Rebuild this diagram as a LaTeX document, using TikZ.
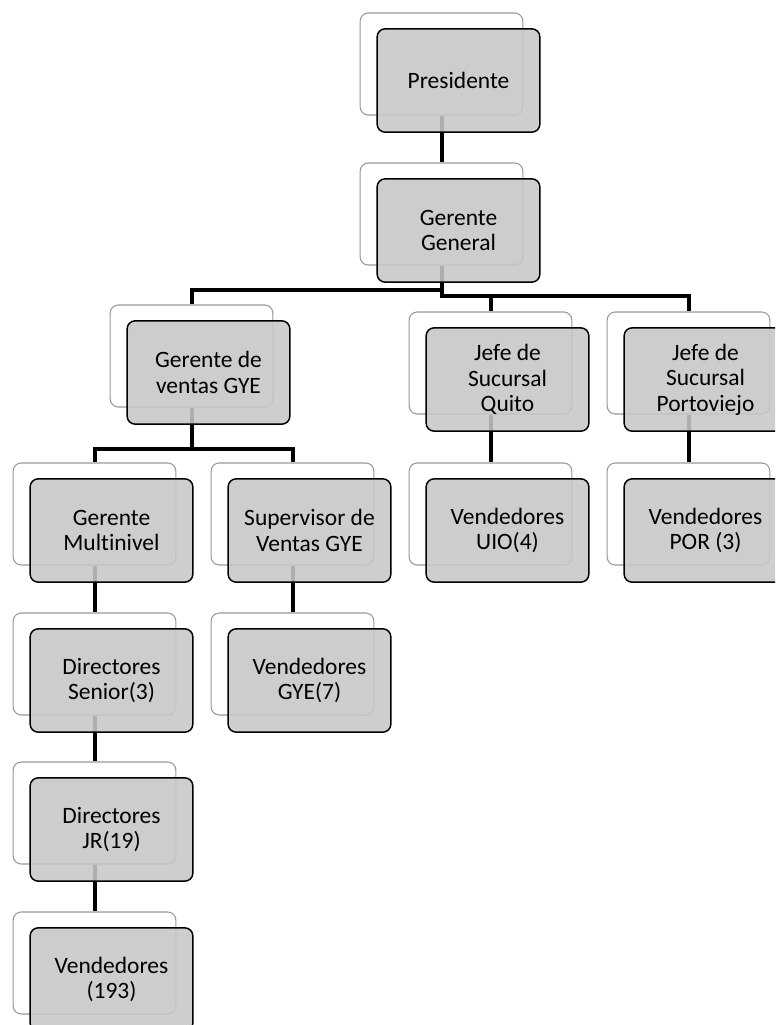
\documentclass[tikz,border=0pt]{standalone}
\usepackage{fontspec}
\setmainfont{Carlito}[Ligatures=NoCommon]
\begin{document}
\begin{tikzpicture}[x=0.75pt,y=-0.75pt,
  backbox/.style={draw=black!40,fill=white,line width=0.8pt,rounded corners=6pt,
    minimum width=122pt,minimum height=76.5pt,inner sep=0pt},
  frontbox/.style={draw=black,fill=black!22,fill opacity=0.88,text opacity=1,line width=1.1pt,
    rounded corners=6pt,minimum width=122pt,minimum height=77.5pt,inner sep=0pt,
    align=center,font=\fontsize{17.6}{19.1}\selectfont},
  link/.style={draw=black,line width=3pt}]
\clip (0,0) rectangle (775,1025);
% back boxes
\node[backbox] (pr) at (441.5,64) {};
\node[backbox] (gg) at (441.5,214) {};
\node[backbox] (gv) at (191.5,356) {};
\node[backbox] (qu) at (490.5,363) {};
\node[backbox] (po) at (688.5,363) {};
\node[backbox] (mu) at (94.5,514) {};
\node[backbox] (su) at (292.5,514) {};
\node[backbox] (uio) at (490.5,514) {};
\node[backbox] (por) at (688.5,514) {};
\node[backbox] (ds) at (94.5,664) {};
\node[backbox] (vg) at (292.5,664) {};
\node[backbox] (jr) at (94.5,813) {};
\node[backbox] (ve) at (94.5,963) {};
% connectors
\draw[link] (pr.south) -- (gg.north);
\draw[link] (gg.south) -- ++(0,24) -| (gv.north);
\draw[link] (gg.south) -- ++(0,30) -| (qu.north);
\draw[link] (gg.south) -- ++(0,30) -| (po.north);
\draw[link] (gv.south) -- ++(0,41) -| (mu.north);
\draw[link] (gv.south) -- ++(0,41) -| (su.north);
\draw[link] (qu.south) -- (uio.north);
\draw[link] (po.south) -- (por.north);
\draw[link] (mu.south) -- (ds.north);
\draw[link] (ds.south) -- (jr.north);
\draw[link] (jr.south) -- (ve.north);
\draw[link] (su.south) -- (vg.north);
% front boxes
\node[frontbox] (prF) at ([shift={(17,16.5)}]pr.center) {Presidente};
\node[frontbox] (ggF) at ([shift={(17,16.5)}]gg.center) {Gerente\\General};
\node[frontbox] (gvF) at ([shift={(17,16.5)}]gv.center) {Gerente de\\ventas GYE};
\node[frontbox] (quF) at ([shift={(17,16.5)}]qu.center) {Jefe de\\Sucursal\\Quito};
\node[frontbox] (poF) at ([shift={(17,16.5)}]po.center) {Jefe de\\Sucursal\\Portoviejo};
\node[frontbox] (muF) at ([shift={(17,16.5)}]mu.center) {Gerente\\Multinivel};
\node[frontbox] (suF) at ([shift={(17,16.5)}]su.center) {Supervisor de\\Ventas GYE};
\node[frontbox] (uioF) at ([shift={(17,16.5)}]uio.center) {Vendedores\\UIO(4)};
\node[frontbox] (porF) at ([shift={(17,16.5)}]por.center) {Vendedores\\POR (3)};
\node[frontbox] (dsF) at ([shift={(17,16.5)}]ds.center) {Directores\\Senior(3)};
\node[frontbox] (vgF) at ([shift={(17,16.5)}]vg.center) {Vendedores\\GYE(7)};
\node[frontbox] (jrF) at ([shift={(17,16.5)}]jr.center) {Directores\\JR(19)};
\node[frontbox] (veF) at ([shift={(17,16.5)}]ve.center) {Vendedores\\(193)};
\end{tikzpicture}
\end{document}
